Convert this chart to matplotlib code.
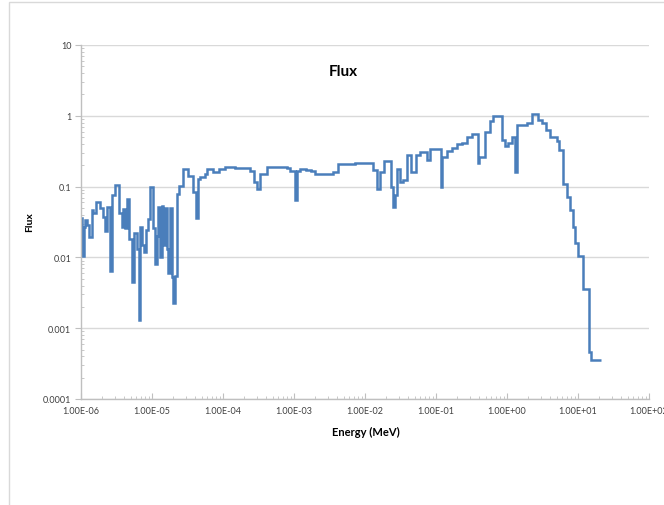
import matplotlib
matplotlib.use("Agg")
import matplotlib.pyplot as plt
from matplotlib.patches import Rectangle
from matplotlib.ticker import LogLocator, FixedLocator, FuncFormatter, NullFormatter

plt.rcParams['font.family'] = ['Lato', 'DejaVu Sans']

# energy group boundaries (MeV) and group flux
energy_edges = [
    1.00e-6, 1.03e-6, 1.10e-6, 1.14e-6, 1.22e-6, 1.31e-6, 1.42e-6, 1.49e-6,
    1.63e-6, 1.85e-6, 2.02e-6, 2.18e-6, 2.30e-6, 2.56e-6, 2.70e-6, 3.01e-6,
    3.46e-6, 3.74e-6, 3.94e-6, 4.17e-6, 4.40e-6, 4.79e-6, 5.18e-6, 5.58e-6,
    6.09e-6, 6.50e-6, 6.78e-6, 7.23e-6, 7.71e-6, 8.23e-6, 8.87e-6, 9.37e-6,
    1.02e-5, 1.10e-5, 1.16e-5, 1.23e-5, 1.30e-5, 1.37e-5, 1.44e-5, 1.52e-5,
    1.61e-5, 1.70e-5, 1.79e-5, 1.89e-5, 2.00e-5, 2.11e-5, 2.23e-5, 2.43e-5,
    2.76e-5, 3.25e-5, 3.74e-5, 4.17e-5, 4.45e-5, 4.75e-5, 5.57e-5, 6.01e-5,
    7.30e-5, 8.87e-5, 1.07e-4, 1.48e-4, 2.40e-4, 2.73e-4, 3.04e-4, 3.32e-4,
    4.12e-4, 7.88e-4, 8.79e-4, 1.03e-3, 1.11e-3, 1.22e-3, 1.48e-3, 1.72e-3,
    1.98e-3, 3.58e-3, 4.21e-3, 7.23e-3, 1.31e-2, 1.46e-2, 1.63e-2, 1.85e-2,
    2.30e-2, 2.51e-2, 2.67e-2, 2.85e-2, 3.11e-2, 3.46e-2, 3.94e-2, 4.40e-2,
    5.23e-2, 5.96e-2, 7.40e-2, 8.23e-2, 1.17e-1, 1.23e-1, 1.42e-1, 1.66e-1,
    1.96e-1, 2.30e-1, 2.71e-1, 3.18e-1, 3.94e-1, 4.07e-1, 4.90e-1, 5.76e-1,
    6.41e-1, 8.42e-1, 9.37e-1, 1.04, 1.16, 1.30, 1.40, 1.52,
    1.93, 2.23, 2.40, 2.76, 3.08, 3.54, 4.03, 5.01,
    5.46, 6.21, 6.93, 7.71, 8.42, 9.07, 10.1, 11.9,
    14.3, 15.3, 20.9,
]
flux = [
    0.036, 0.0105, 0.027, 0.034, 0.029, 0.0195, 0.046, 0.042,
    0.060, 0.050, 0.037, 0.0236, 0.052, 0.0065, 0.075, 0.105,
    0.042, 0.027, 0.048, 0.026, 0.066, 0.018, 0.0045, 0.022,
    0.013, 0.0013, 0.027, 0.015, 0.0118, 0.024, 0.035, 0.098,
    0.026, 0.008, 0.020, 0.052, 0.010, 0.054, 0.015, 0.050,
    0.013, 0.006, 0.050, 0.0053, 0.0023, 0.0055, 0.078, 0.102,
    0.180, 0.143, 0.083, 0.0365, 0.128, 0.138, 0.150, 0.177,
    0.163, 0.177, 0.187, 0.183, 0.165, 0.115, 0.094, 0.150,
    0.190, 0.183, 0.165, 0.064, 0.165, 0.177, 0.170, 0.165,
    0.152, 0.163, 0.210, 0.215, 0.170, 0.093, 0.162, 0.230,
    0.100, 0.051, 0.075, 0.177, 0.115, 0.125, 0.275, 0.160,
    0.275, 0.305, 0.235, 0.340, 0.100, 0.260, 0.320, 0.350,
    0.395, 0.410, 0.510, 0.560, 0.215, 0.260, 0.590, 0.840,
    0.980, 0.450, 0.380, 0.410, 0.500, 0.160, 0.730, 0.750,
    0.800, 1.050, 1.070, 0.880, 0.780, 0.620, 0.500, 0.440,
    0.330, 0.109, 0.071, 0.046, 0.0268, 0.0158, 0.0105, 0.0036,
    0.00046, 0.00035,
]

x_ticks = [1e-6, 1e-5, 1e-4, 1e-3, 1e-2, 1e-1, 1e0, 1e1, 1e2]
y_ticks = [1e-4, 1e-3, 1e-2, 1e-1, 1e0, 1e1]
y_tick_labels = ['0.0001', '0.001', '0.01', '0.1', '1', '10']

W, H = 664, 506
fig = plt.figure(figsize=(W / 100, H / 100), dpi=100)
fig.patches.append(Rectangle((9 / W, -0.05), 1.2, 1.05 - 3 / H,
                             transform=fig.transFigure, fill=False,
                             edgecolor='#d9d9d9', lw=1))

ax = fig.add_axes([81 / W, 106 / H, 568 / W, 354 / H])
ax.stairs(flux, energy_edges, color='#4a7ebb', lw=1.8, baseline=None)

ax.set_xscale('log')
ax.set_yscale('log')
ax.set_xlim(1e-6, 1e2)
ax.set_ylim(1e-4, 10)

ax.xaxis.set_major_locator(FixedLocator(x_ticks))
ax.xaxis.set_major_formatter(FuncFormatter(lambda v, p: f"{v:.2E}"))
ax.xaxis.set_minor_locator(LogLocator(base=10, subs=range(2, 10), numticks=50))
ax.xaxis.set_minor_formatter(NullFormatter())
ax.yaxis.set_major_locator(FixedLocator(y_ticks))
ax.set_yticklabels(y_tick_labels)
ax.yaxis.set_minor_locator(LogLocator(base=10, subs=range(2, 10), numticks=50))
ax.yaxis.set_minor_formatter(NullFormatter())

ax.grid(axis='y', which='major', color='#d9d9d9', lw=1)
ax.set_axisbelow(True)
for s in ('top', 'right'):
    ax.spines[s].set_visible(False)
for s in ('left', 'bottom'):
    ax.spines[s].set_color('#bfbfbf')
    ax.spines[s].set_linewidth(1)

ax.tick_params(axis='x', which='major', direction='in', length=4, color='#bfbfbf',
               labelsize=6.5, labelcolor='#404040', pad=5)
ax.tick_params(axis='x', which='minor', direction='in', length=2.5, color='#bfbfbf')
ax.tick_params(axis='y', which='major', direction='out', length=4, color='#bfbfbf',
               labelsize=6.5, labelcolor='#404040', pad=3)
ax.tick_params(axis='y', which='minor', direction='in', length=2.5, color='#bfbfbf')

fig.text(343 / W, 1 - 72 / H, 'Flux', ha='center', va='center',
         fontsize=11, fontweight='bold', color='black')
fig.text(30 / W, 1 - 222 / H, 'Flux', ha='center', va='center', rotation=90,
         fontsize=7.5, fontweight='bold', color='black')
fig.text(366 / W, 1 - 432 / H, 'Energy (MeV)', ha='center', va='center',
         fontsize=8, fontweight='bold', color='black')

fig.savefig('out.png', dpi=100)
